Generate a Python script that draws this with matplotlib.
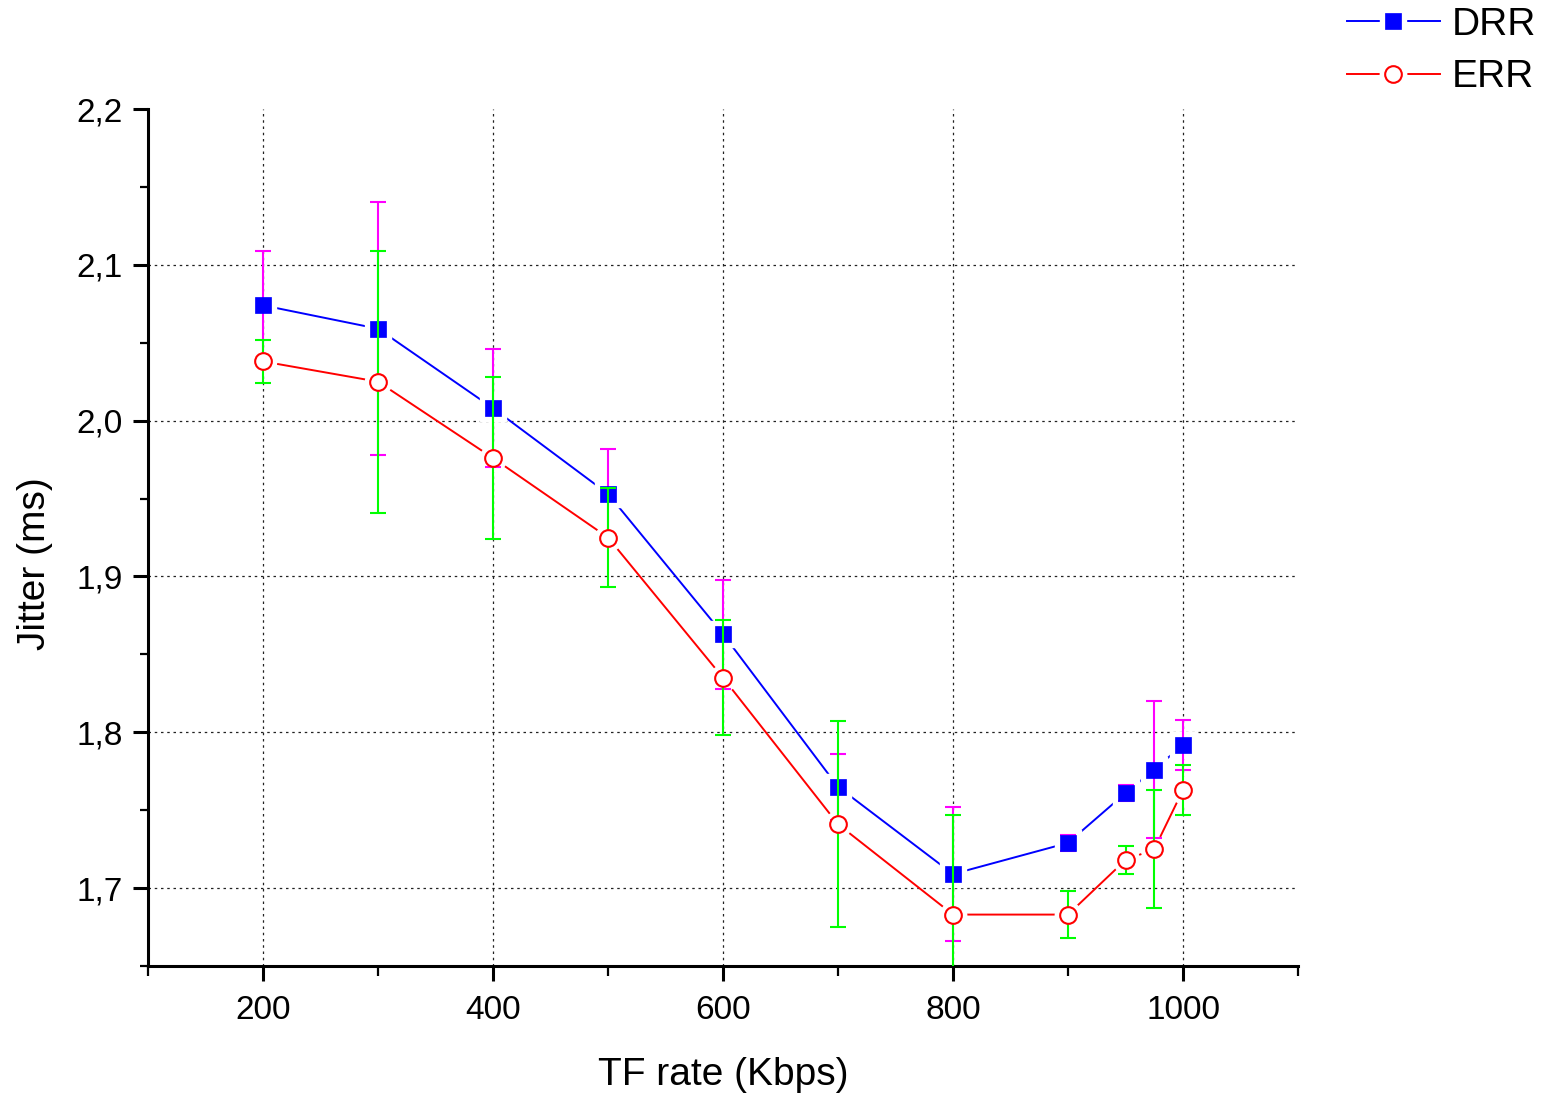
import matplotlib
matplotlib.use("Agg")
import matplotlib.pyplot as plt
from matplotlib.ticker import MultipleLocator, FuncFormatter
from matplotlib.legend_handler import HandlerTuple

plt.rcParams['font.family'] = ['Liberation Sans', 'DejaVu Sans']

# ---- data ----
tf_rate = [200, 300, 400, 500, 600, 700, 800, 900, 950, 975, 1000]
drr = [2.074, 2.059, 2.008, 1.953, 1.863, 1.765, 1.709, 1.729, 1.761, 1.776, 1.792]
drr_err = [0.035, 0.081, 0.038, 0.029, 0.035, 0.021, 0.043, 0.005, 0.005, 0.044, 0.016]
err_vals = [2.038, 2.025, 1.976, 1.925, 1.835, 1.741, 1.683, 1.683, 1.718, 1.725, 1.763]
err_err = [0.014, 0.084, 0.052, 0.032, 0.037, 0.066, 0.064, 0.015, 0.009, 0.038, 0.016]
series_names = ["DRR", "ERR"]

fig = plt.figure(figsize=(15.44, 10.94), dpi=100)
ax = fig.add_axes([148/1544, 1-966/1094, (1298-148)/1544, (966-109)/1094])

BLUE, RED, MAG, GRN = '#0000FF', '#FF0000', '#FF00FF', '#00FF00'
sq_ms, ci_ms = 11.5, 12.0
halo_extra = 7.0

# lines
l1, = ax.plot(tf_rate, drr, color=BLUE, lw=1.4, zorder=2)
l2, = ax.plot(tf_rate, err_vals, color=RED, lw=1.4, zorder=2)
# white halos to create gaps between lines and markers
h1, = ax.plot(tf_rate, drr, ls='none', marker='s', ms=sq_ms + halo_extra,
              mfc='white', mec='white', zorder=3)
h2, = ax.plot(tf_rate, err_vals, ls='none', marker='o', ms=ci_ms + halo_extra,
              mfc='white', mec='white', zorder=3)
# error bars
ax.errorbar(tf_rate, drr, yerr=drr_err, fmt='none', ecolor=MAG, elinewidth=1.5,
            capsize=6, capthick=1.5, zorder=4)
m1, = ax.plot(tf_rate, drr, ls='none', marker='s', ms=sq_ms, mfc=BLUE, mec=BLUE,
              mew=0.5, zorder=5)
ax.errorbar(tf_rate, err_vals, yerr=err_err, fmt='none', ecolor=GRN, elinewidth=1.5,
            capsize=6, capthick=1.5, zorder=6)
m2, = ax.plot(tf_rate, err_vals, ls='none', marker='o', ms=ci_ms, mfc='white', mec=RED,
              mew=1.5, zorder=7)

ax.set_xlim(100, 1100)
ax.set_ylim(1.65, 2.2)
ax.xaxis.set_major_locator(MultipleLocator(200))
ax.xaxis.set_minor_locator(MultipleLocator(100))
ax.yaxis.set_major_locator(MultipleLocator(0.1))
ax.yaxis.set_minor_locator(MultipleLocator(0.05))
ax.yaxis.set_major_formatter(FuncFormatter(lambda v, p: f"{v:.1f}".replace('.', ',')))

for s in ['top', 'right']:
    ax.spines[s].set_visible(False)
for s in ['left', 'bottom']:
    ax.spines[s].set_linewidth(2.2)

ax.tick_params(axis='both', which='major', direction='out', width=2.2, labelsize=24)
ax.tick_params(axis='x', which='major', length=11, pad=10)
ax.tick_params(axis='x', which='minor', length=7, width=1.6)
ax.tick_params(axis='y', which='major', length=11, pad=7)
ax.tick_params(axis='y', which='minor', length=6, width=1.6)

ax.grid(True, which='major', color='#222222', linestyle=(0, (2, 3)), linewidth=0.9)
fig.canvas.draw()
# hide grid lines on the top boundary
for t, gl in zip(ax.get_yticks(), ax.yaxis.get_gridlines()):
    if t > 2.15:
        gl.set_visible(False)

ax.set_xlabel("TF rate (Kbps)", fontsize=28, labelpad=22)
ax.set_ylabel("Jitter (ms)", fontsize=28)
ax.yaxis.set_label_coords(-0.083, 0.47)

leg = fig.legend([(l1, h1, m1), (l2, h2, m2)], series_names,
                 handler_map={tuple: HandlerTuple(ndivide=1, pad=0)},
                 loc='upper right', bbox_to_anchor=(1536/1544, 1-7/1094),
                 frameon=False, fontsize=28, numpoints=1, handlelength=2.4,
                 handletextpad=0.3, labelspacing=0.42, borderpad=0, borderaxespad=0)

fig.savefig("out.png", dpi=100)
